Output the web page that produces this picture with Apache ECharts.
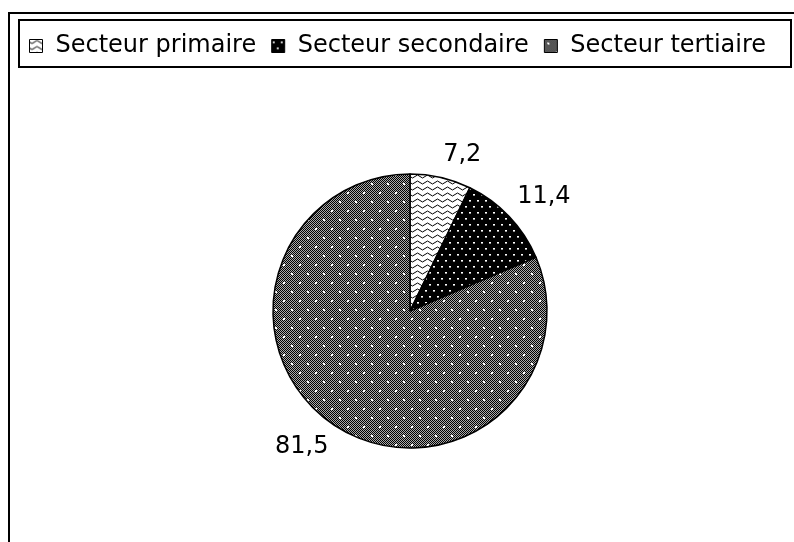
<!DOCTYPE html>
<html>
<head>
<meta charset="utf-8">
<script src="https://cdn.jsdelivr.net/npm/echarts@6/dist/echarts.min.js"></script>
<style>
  html, body { margin: 0; padding: 0; background: #fff; }
  #main { width: 794px; height: 542px; }
</style>
</head>
<body>
<div id="main"></div>
<script>
// donnees
var secteurs = ['Secteur primaire', 'Secteur secondaire', 'Secteur tertiaire'];
var valeurs = [7.2, 11.4, 81.5];

var centre = [410, 311];
var rayon = 137;

// motifs de remplissage (facon Excel noir et blanc)
function motif(w, h, dessin) {
    var c = document.createElement('canvas');
    c.width = w; c.height = h;
    var ctx = c.getContext('2d');
    dessin(ctx);
    return c;
}

var motifPrimaire = motif(10, 6, function(ctx) {
    ctx.fillStyle = '#fff';
    ctx.fillRect(0, 0, 10, 6);
    ctx.strokeStyle = '#000';
    ctx.lineWidth = 1;
    ctx.beginPath();
    ctx.moveTo(0, 2.5);
    ctx.quadraticCurveTo(2.5, 5.5, 5, 2.5);
    ctx.quadraticCurveTo(7.5, -0.5, 10, 2.5);
    ctx.stroke();
});

var motifSecondaire = motif(8, 12, function(ctx) {
    ctx.fillStyle = '#000';
    ctx.fillRect(0, 0, 8, 12);
    ctx.fillStyle = '#fff';
    ctx.fillRect(1, 2, 2, 1);
    ctx.fillRect(5, 8, 2, 1);
    ctx.fillStyle = '#999';
    ctx.fillRect(1, 3, 2, 1);
    ctx.fillRect(5, 9, 2, 1);
});

var motifTertiaire = motif(16, 18, function(ctx) {
    ctx.fillStyle = '#aaa';
    ctx.fillRect(0, 0, 16, 18);
    ctx.fillStyle = '#000';
    for (var y = 0; y < 18; y++) {
        for (var x = 0; x < 16; x++) {
            if ((x + y) % 2 === 0) { ctx.fillRect(x, y, 1, 1); }
        }
    }
    ctx.fillStyle = '#fff';
    ctx.fillRect(3, 3, 2, 2);
    ctx.fillRect(11, 12, 2, 2);
});

var motifs = [motifPrimaire, motifSecondaire, motifTertiaire];

var donnees = secteurs.map(function(nom, i) {
    return {
        name: nom,
        value: valeurs[i],
        itemStyle: { color: { image: motifs[i], repeat: 'repeat' } }
    };
});

// angle median de chaque part (depuis le haut, sens horaire)
var total = valeurs.reduce(function(a, b) { return a + b; }, 0);
var angles = [];
var cumul = 0;
valeurs.forEach(function(v) {
    angles.push((cumul + v / 2) / total * 2 * Math.PI);
    cumul += v;
});

var chart = echarts.init(document.getElementById('main'), null, { renderer: 'canvas' });
chart.setOption({
    animation: false,
    backgroundColor: '#fff',
    textStyle: { fontFamily: 'DejaVu Sans, sans-serif' },
    graphic: [
        {
            type: 'rect',
            shape: { x: 9, y: 13, width: 800, height: 540 },
            style: { fill: 'none', stroke: '#000', lineWidth: 2 },
            z: 0
        },
        {
            type: 'rect',
            shape: { x: 19, y: 20, width: 772, height: 47 },
            style: { fill: 'none', stroke: '#000', lineWidth: 2 },
            z: 0
        }
    ],
    legend: {
        left: 24,
        top: 29,
        icon: 'rect',
        itemWidth: 13,
        itemHeight: 13,
        itemGap: 15,
        itemStyle: { borderColor: '#000', borderWidth: 1 },
        textStyle: {
            fontSize: 24,
            color: '#000',
            fontFamily: 'DejaVu Sans, sans-serif',
            padding: [0, 0, 0, 8]
        },
        data: secteurs,
        selectedMode: false
    },
    series: [{
        type: 'pie',
        center: centre,
        radius: rayon,
        startAngle: 90,
        clockwise: true,
        itemStyle: { borderColor: '#000', borderWidth: 1.5 },
        label: {
            show: true,
            position: 'outside',
            fontSize: 24,
            color: '#000',
            fontFamily: 'DejaVu Sans, sans-serif',
            formatter: function(p) { return String(p.value).replace('.', ','); }
        },
        labelLine: { show: false },
        // coin le plus proche de l'etiquette pose juste en dehors du cercle
        labelLayout: function(params) {
            var a = angles[params.dataIndex];
            var sx = Math.sin(a), cy = -Math.cos(a);
            var d = rayon + 11;
            return {
                x: centre[0] + sx * d,
                y: centre[1] + cy * d,
                align: sx >= 0 ? 'left' : 'right',
                verticalAlign: cy < 0 ? 'bottom' : 'top'
            };
        },
        emphasis: { disabled: true },
        data: donnees
    }]
});
</script>
</body>
</html>
